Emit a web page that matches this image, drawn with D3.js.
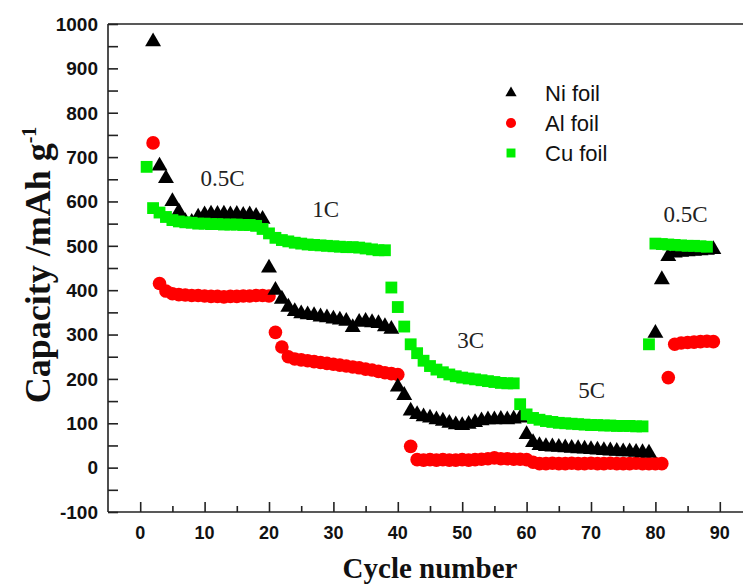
<html>
<head>
  <style>
    body { margin: 0; background: #fff; }
    .tick-label { font-family: Arial, "Liberation Sans", sans-serif; font-weight: bold; fill: #111; }
    .title { font-family: "Times New Roman", "Liberation Serif", serif; font-weight: bold; fill: #111; }
    .rate { font-family: "Times New Roman", "Liberation Serif", serif; font-size: 23px; fill: #222; }
    .legend-text { font-family: Arial, "Liberation Sans", sans-serif; font-size: 22px; fill: #111; }
  </style>
</head>
<body>
  <script src="https://d3js.org/d3.v7.min.js"></script>
  <script>
    var width = 743;
    var height = 584;

    // [cycle, capacity]
    const niFoil = [
      [2, 960], [3, 680], [4, 652], [5, 600], [6, 577], [7, 555], [8, 553], [9, 565], [10, 570],
      [11, 572], [12, 571], [13, 572], [14, 570], [15, 571], [16, 569], [17, 570], [18, 567], [19, 560],
      [20, 450], [21, 400], [22, 380], [23, 362], [24, 352], [25, 347], [26, 345], [27, 343], [28, 340],
      [29, 338], [30, 335], [31, 333], [32, 330], [33, 316], [34, 328], [35, 330], [36, 327], [37, 325],
      [38, 318], [39, 312],
      [40, 182], [41, 163], [42, 128], [43, 120], [44, 115], [45, 112], [46, 108], [47, 105], [48, 100],
      [49, 97], [50, 95], [51, 98], [52, 102], [53, 106], [54, 108], [55, 108], [56, 109], [57, 108],
      [58, 110], [59, 112],
      [60, 75], [61, 57], [62, 50], [63, 48], [64, 47], [65, 46], [66, 45], [67, 44], [68, 43], [69, 42],
      [70, 41], [71, 40], [72, 39], [73, 38], [74, 37], [75, 36], [76, 36], [77, 35], [78, 34], [79, 33],
      [80, 303], [81, 424], [82, 476], [83, 484], [84, 486], [85, 487], [86, 488], [87, 489], [88, 490], [89, 492]
    ];

    const alFoil = [
      [2, 732], [3, 415], [4, 398], [5, 392], [6, 390], [7, 389], [8, 388], [9, 388], [10, 387],
      [11, 386], [12, 386], [13, 385], [14, 386], [15, 386], [16, 387], [17, 387], [18, 388], [19, 388], [20, 387],
      [21, 305], [22, 272], [23, 250], [24, 245], [25, 243], [26, 241], [27, 239], [28, 237], [29, 235],
      [30, 233], [31, 231], [32, 229], [33, 227], [34, 225], [35, 222], [36, 220], [37, 217], [38, 214],
      [39, 212], [40, 210],
      [42, 48], [43, 18], [44, 17], [45, 18], [46, 17], [47, 18], [48, 17], [49, 17], [50, 18], [51, 17],
      [52, 18], [53, 19], [54, 20], [55, 22], [56, 20], [57, 20], [58, 19], [59, 19], [60, 18],
      [61, 12], [62, 9], [63, 9], [64, 10], [65, 9], [66, 9], [67, 10], [68, 9], [69, 9], [70, 10],
      [71, 9], [72, 9], [73, 10], [74, 9], [75, 9], [76, 9], [77, 10], [78, 9], [79, 9], [80, 9], [81, 9],
      [82, 203], [83, 278], [84, 281], [85, 282], [86, 283], [87, 284], [88, 285], [89, 284]
    ];

    const cuFoil = [
      [1, 678], [2, 585], [3, 575], [4, 565], [5, 558], [6, 555], [7, 553], [8, 552], [9, 550], [10, 550],
      [11, 549], [12, 549], [13, 548], [14, 548], [15, 548], [16, 547], [17, 547], [18, 545], [19, 538], [20, 528],
      [21, 518], [22, 513], [23, 510], [24, 507], [25, 505], [26, 503], [27, 502], [28, 501], [29, 500],
      [30, 499], [31, 498], [32, 497], [33, 497], [34, 496], [35, 494], [36, 492], [37, 490], [38, 490],
      [39, 406], [40, 362], [41, 318], [42, 278], [43, 258], [44, 241], [45, 229], [46, 221], [47, 215],
      [48, 210], [49, 206], [50, 203], [51, 201], [52, 199], [53, 197], [54, 195], [55, 193], [56, 191],
      [57, 190], [58, 190],
      [59, 143], [60, 120], [61, 112], [62, 108], [63, 105], [64, 103], [65, 101], [66, 100], [67, 99],
      [68, 98], [69, 97], [70, 96], [71, 96], [72, 95], [73, 95], [74, 94], [75, 94], [76, 94], [77, 93], [78, 93],
      [79, 278], [80, 505], [81, 504], [82, 503], [83, 502], [84, 501], [85, 500], [86, 500], [87, 499], [88, 498]
    ];

    const seriesNames = ["Ni foil", "Al foil", "Cu foil"];
    const seriesColors = ["#000000", "#ff0000", "#00ee00"];

    // rate labels: [text, cycle, capacity]
    const rateLabels = [
      ["0.5C", 12.8, 635], ["1C", 28.8, 566], ["3C", 51.3, 270], ["5C", 70.1, 158], ["0.5C", 84.7, 554]
    ];

    const xMajorTicks = [0, 10, 20, 30, 40, 50, 60, 70, 80, 90];
    const xMinorTicks = [5, 15, 25, 35, 45, 55, 65, 75, 85];
    const yMajorTicks = [-100, 0, 100, 200, 300, 400, 500, 600, 700, 800, 900, 1000];
    const yMinorTicks = [-50, 50, 150, 250, 350, 450, 550, 650, 750, 850, 950];

    var x = d3.scaleLinear().domain([-5, 95]).range([108, 752]);
    var y = d3.scaleLinear().domain([-100, 1000]).range([512, 24]);

    var svg = d3.select("body").append("svg")
      .attr("width", width)
      .attr("height", height);

    // markers, Al under Ni under Cu
    var plot = svg.append("g");
    var triangle = d3.symbol().type(d3.symbolTriangle).size(110);
    var square = d3.symbol().type(d3.symbolSquare).size(140);

    plot.append("g").selectAll("circle")
      .data(alFoil).join("circle")
      .attr("cx", d => x(d[0]))
      .attr("cy", d => y(d[1]))
      .attr("r", 6.8)
      .style("fill", seriesColors[1]);

    plot.append("g").selectAll("path")
      .data(niFoil).join("path")
      .attr("d", triangle)
      .attr("transform", d => "translate(" + x(d[0]) + "," + y(d[1]) + ")")
      .style("fill", seriesColors[0]);

    plot.append("g").selectAll("path")
      .data(cuFoil).join("path")
      .attr("d", square)
      .attr("transform", d => "translate(" + x(d[0]) + "," + y(d[1]) + ")")
      .style("fill", seriesColors[2]);

    // frame
    var frame = svg.append("g").style("stroke", "#222").style("stroke-width", 1.6);
    frame.append("line").attr("x1", x(-5)).attr("x2", x(-5)).attr("y1", y(-100)).attr("y2", y(1000));
    frame.append("line").attr("x1", x(-5)).attr("x2", x(95)).attr("y1", y(-100)).attr("y2", y(-100));
    frame.append("line").attr("x1", x(-5)).attr("x2", x(95)).attr("y1", y(1000)).attr("y2", y(1000));
    frame.append("line").attr("x1", x(95)).attr("x2", x(95)).attr("y1", y(-100)).attr("y2", y(1000));

    // axes with inward ticks
    var xAxis = svg.append("g").attr("transform", "translate(0," + y(-100) + ")");
    xAxis.call(d3.axisTop(x).tickValues(xMinorTicks).tickSize(6).tickFormat(""));
    xAxis.append("g").call(d3.axisTop(x).tickValues(xMajorTicks).tickSize(10).tickFormat(""));
    xAxis.selectAll(".domain").remove();
    xAxis.selectAll("line").style("stroke", "#222").style("stroke-width", 1.6);
    xAxis.selectAll(".lbl").data(xMajorTicks).join("text")
      .attr("class", "tick-label")
      .attr("x", d => x(d))
      .attr("y", 27)
      .attr("text-anchor", "middle")
      .style("font-size", "18px")
      .text(d => d);

    var yAxis = svg.append("g").attr("transform", "translate(" + x(-5) + ",0)");
    yAxis.call(d3.axisRight(y).tickValues(yMinorTicks).tickSize(10).tickFormat(""));
    yAxis.append("g").call(d3.axisRight(y).tickValues(yMajorTicks).tickSize(10).tickFormat(""));
    yAxis.selectAll(".domain").remove();
    yAxis.selectAll("line").style("stroke", "#222").style("stroke-width", 1.6);
    yAxis.selectAll(".lbl").data(yMajorTicks).join("text")
      .attr("class", "tick-label")
      .attr("x", -10)
      .attr("y", d => y(d))
      .attr("dy", "0.36em")
      .attr("text-anchor", "end")
      .style("font-size", "19px")
      .text(d => d);

    // titles
    svg.append("text")
      .attr("class", "title")
      .attr("x", 430)
      .attr("y", 578)
      .attr("text-anchor", "middle")
      .style("font-size", "29px")
      .text("Cycle number");

    var yTitle = svg.append("text")
      .attr("class", "title")
      .attr("transform", "translate(50,265) rotate(-90)")
      .attr("text-anchor", "middle")
      .style("font-size", "36px");
    yTitle.append("tspan").text("Capacity /mAh g");
    yTitle.append("tspan").attr("dy", "-0.7em").style("font-size", "20px").text("-1");

    // rate labels
    svg.append("g").selectAll("text")
      .data(rateLabels).join("text")
      .attr("class", "rate")
      .attr("x", d => x(d[1]))
      .attr("y", d => y(d[2]))
      .attr("text-anchor", "middle")
      .text(d => d[0]);

    // legend
    var legend = svg.append("g").attr("transform", "translate(511,93)");
    var legendSymbols = [
      d3.symbol().type(d3.symbolTriangle).size(55),
      d3.symbol().type(d3.symbolCircle).size(80),
      d3.symbol().type(d3.symbolSquare).size(80)
    ];
    seriesNames.forEach((name, i) => {
      var row = legend.append("g").attr("transform", "translate(0," + i * 30 + ")");
      row.append("path").attr("d", legendSymbols[i]()).style("fill", seriesColors[i]);
      row.append("text").attr("class", "legend-text").attr("x", 34).attr("y", 8).text(name);
    });
  </script>
</body>
</html>
